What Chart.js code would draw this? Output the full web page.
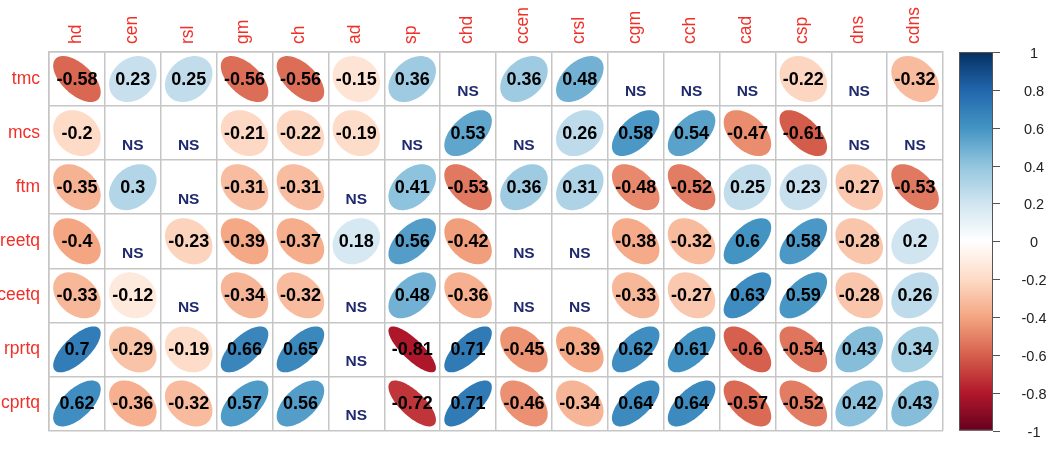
<!DOCTYPE html>
<html>
<head>
<meta charset="utf-8">
<script src="https://cdn.jsdelivr.net/npm/chart.js@4.4.0/dist/chart.umd.min.js"></script>
<style>
  html, body { margin: 0; padding: 0; background: #fff; }
  #wrap { width: 1051px; height: 450px; }
</style>
</head>
<body>
<div id="wrap"><canvas id="corr"></canvas></div>
<script>
// Variáveis nas colunas e nas linhas da matriz
const columns = ['hd', 'cen', 'rsl', 'gm', 'ch', 'ad', 'sp', 'chd', 'ccen', 'crsl', 'cgm', 'cch', 'cad', 'csp', 'dns', 'cdns'];
const rows = ['tmc', 'mcs', 'ftm', 'reetq', 'ceetq', 'rprtq', 'cprtq'];

// Correlações por linha (null = não significativo, mostra "NS")
const tmc   = [-0.58, 0.23, 0.25, -0.56, -0.56, -0.15, 0.36, null, 0.36, 0.48, null, null, null, -0.22, null, -0.32];
const mcs   = [-0.2, null, null, -0.21, -0.22, -0.19, null, 0.53, null, 0.26, 0.58, 0.54, -0.47, -0.61, null, null];
const ftm   = [-0.35, 0.3, null, -0.31, -0.31, null, 0.41, -0.53, 0.36, 0.31, -0.48, -0.52, 0.25, 0.23, -0.27, -0.53];
const reetq = [-0.4, null, -0.23, -0.39, -0.37, 0.18, 0.56, -0.42, null, null, -0.38, -0.32, 0.6, 0.58, -0.28, 0.2];
const ceetq = [-0.33, -0.12, null, -0.34, -0.32, null, 0.48, -0.36, null, null, -0.33, -0.27, 0.63, 0.59, -0.28, 0.26];
const rprtq = [0.7, -0.29, -0.19, 0.66, 0.65, null, -0.81, 0.71, -0.45, -0.39, 0.62, 0.61, -0.6, -0.54, 0.43, 0.34];
const cprtq = [0.62, -0.36, -0.32, 0.57, 0.56, null, -0.72, 0.71, -0.46, -0.34, 0.64, 0.64, -0.57, -0.52, 0.42, 0.43];
const matrix = [tmc, mcs, ftm, reetq, ceetq, rprtq, cprtq];

// Escala de cores (RdBu) e marcas da legenda
const paletteStops = ['#67001F', '#B2182B', '#D6604D', '#F4A582', '#FDDBC7', '#FFFFFF', '#D1E5F0', '#92C5DE', '#4393C3', '#2166AC', '#053061'];
const legendTicks = [1, 0.8, 0.6, 0.4, 0.2, 0, -0.2, -0.4, -0.6, -0.8, -1];

const FONT = "'Liberation Sans', Arial, sans-serif";
const gridColor = '#c6c6c6';
const labelRed = '#f03028';

const hexToRgb = (hex) => [1, 3, 5].map(i => parseInt(hex.slice(i, i + 2), 16));

// Interpola a cor para um valor entre -1 e 1
function corrColor(v) {
    const t = (v + 1) / 2 * (paletteStops.length - 1);
    const i = Math.min(Math.floor(t), paletteStops.length - 2);
    const f = t - i;
    const a = hexToRgb(paletteStops[i]);
    const b = hexToRgb(paletteStops[i + 1]);
    const c = a.map((x, k) => Math.round(x + (b[k] - x) * f));
    return `rgb(${c[0]},${c[1]},${c[2]})`;
}

// Elipse no estilo corrplot: eixo maior na diagonal, achatamento pelo valor
function drawEllipse(ctx, cx, cy, w, h, r) {
    const d = Math.acos(r);
    ctx.beginPath();
    for (let k = 0; k <= 120; k++) {
        const t = k / 120 * 2 * Math.PI;
        const ex = cx + 0.85 * w * Math.cos(t + d / 2) / 2;
        const ey = cy - 0.85 * h * Math.cos(t - d / 2) / 2;
        if (k === 0) ctx.moveTo(ex, ey); else ctx.lineTo(ex, ey);
    }
    ctx.closePath();
    ctx.fill();
}

const points = [];
rows.forEach((row, ri) => {
    columns.forEach((col, ci) => {
        points.push({ x: col, y: row, v: matrix[ri][ci] });
    });
});

const corrPlugin = {
    id: 'corrCells',
    afterDatasetsDraw(chart) {
        const ctx = chart.ctx;
        const meta = chart.getDatasetMeta(0);
        const data = chart.data.datasets[0].data;
        const cw = chart.scales.x.width / columns.length;
        const ch = chart.scales.y.height / rows.length;

        ctx.save();
        // elipses
        meta.data.forEach((pt, i) => {
            const v = data[i].v;
            if (v === null) return;
            ctx.fillStyle = corrColor(v);
            drawEllipse(ctx, pt.x, pt.y, cw, ch, v);
        });
        // valores e NS
        ctx.textAlign = 'center';
        ctx.textBaseline = 'middle';
        meta.data.forEach((pt, i) => {
            const v = data[i].v;
            if (v === null) {
                ctx.fillStyle = '#1f2a6e';
                ctx.font = `bold 15.5px ${FONT}`;
                ctx.fillText('NS', pt.x, pt.y + 12.5);
            } else {
                ctx.fillStyle = '#000';
                ctx.font = `bold 18px ${FONT}`;
                ctx.fillText(String(v), pt.x, pt.y + 1);
            }
        });

        // nomes das colunas, na vertical, acima da grade
        const xs = chart.scales.x;
        ctx.fillStyle = labelRed;
        ctx.font = `17.5px ${FONT}`;
        ctx.textAlign = 'left';
        ctx.textBaseline = 'middle';
        columns.forEach(col => {
            ctx.save();
            ctx.translate(xs.getPixelForValue(col) - 1, xs.bottom - 8);
            ctx.rotate(-Math.PI / 2);
            ctx.fillText(col, 0, 0);
            ctx.restore();
        });
        ctx.restore();
    },
    afterDraw(chart) {
        // barra de cores à direita
        const ctx = chart.ctx;
        const { top, bottom } = chart.chartArea;
        const x0 = 959, x1 = 993;
        const grad = ctx.createLinearGradient(0, bottom, 0, top);
        paletteStops.forEach((c, i) => grad.addColorStop(i / (paletteStops.length - 1), c));
        ctx.save();
        ctx.fillStyle = grad;
        ctx.fillRect(x0, top, x1 - x0, bottom - top);
        ctx.strokeStyle = '#555';
        ctx.lineWidth = 1;
        ctx.strokeRect(x0 + 0.5, top + 0.5, x1 - x0 - 1, bottom - top - 1);

        ctx.fillStyle = '#222';
        ctx.font = `14.5px ${FONT}`;
        ctx.textAlign = 'center';
        ctx.textBaseline = 'middle';
        legendTicks.forEach(t => {
            const y = bottom - (t + 1) / 2 * (bottom - top);
            ctx.beginPath();
            ctx.moveTo(x1, Math.round(y) + 0.5);
            ctx.lineTo(x1 + 7, Math.round(y) + 0.5);
            ctx.stroke();
            ctx.fillText(String(t), 1034, y + 2);
        });
        ctx.restore();
    }
};

new Chart(document.getElementById('corr'), {
    type: 'scatter',
    data: {
        datasets: [{
            data: points,
            pointRadius: 0,
            pointHoverRadius: 0
        }]
    },
    options: {
        responsive: true,
        maintainAspectRatio: false,
        animation: false,
        events: [],
        layout: { padding: { left: 0, top: 0, right: 108, bottom: 7 } },
        plugins: { legend: { display: false }, tooltip: { enabled: false } },
        scales: {
            x: {
                type: 'category',
                labels: columns,
                position: 'top',
                offset: true,
                grid: { offset: true, color: gridColor, lineWidth: 1.5, drawTicks: false },
                border: { color: gridColor, width: 1.5 },
                ticks: { display: false },
                afterFit: (scale) => { scale.height = 52; }
            },
            y: {
                type: 'category',
                labels: rows,
                offset: true,
                grid: { offset: true, color: gridColor, lineWidth: 1.5, drawTicks: false },
                border: { color: gridColor, width: 1.5 },
                ticks: {
                    color: labelRed,
                    font: { family: FONT, size: 17.5 },
                    autoSkip: false,
                    padding: 9
                },
                afterFit: (scale) => { scale.width = 49; }
            }
        }
    },
    plugins: [corrPlugin]
});
</script>
</body>
</html>
